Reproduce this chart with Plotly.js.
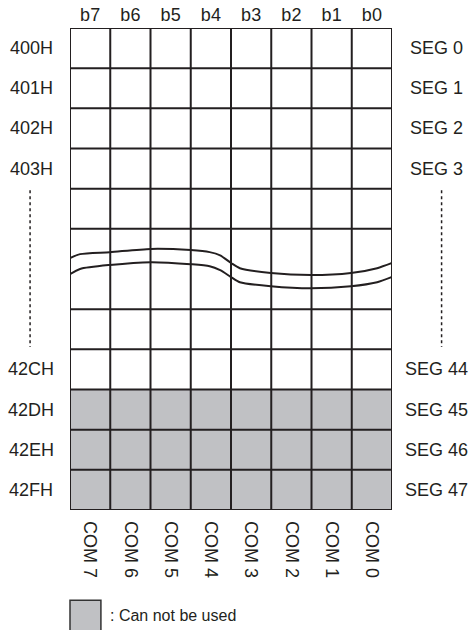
<!DOCTYPE html>
<html>
<head>
<meta charset="utf-8">
<script src="https://cdn.plot.ly/plotly-3.0.1.min.js"></script>
<style>
html,body{margin:0;padding:0;background:#fff;}
#chart{width:471px;height:630px;}
</style>
</head>
<body>
<div id="chart"></div>
<script>
// ---- data ----
const bitLabels = ['b7','b6','b5','b4','b3','b2','b1','b0'];
const comLabels = ['COM 7','COM 6','COM 5','COM 4','COM 3','COM 2','COM 1','COM 0'];
const addrLabels = ['400H','401H','402H','403H','','','','','42CH','42DH','42EH','42FH'];
const segLabels = ['SEG 0','SEG 1','SEG 2','SEG 3','','','','','SEG 44','SEG 45','SEG 46','SEG 47'];
// 0 = usable, 1 = can not be used
const rowUnusable = [0,0,0,0,0,0,0,0,0,1,1,1];
// boundary index between rows that is omitted (rows 5 and 6 form the break cell)
const omittedBoundaries = [6];
// break (omission) curves, in column / row units
const breakX    = [-0.5, -0.25, 0.49, 1.51, 2.5, 2.97, 3.23, 3.5, 3.72, 4.49, 5.49, 6.48, 7.13, 7.5];
const breakTopY = [5.23, 5.13, 5.08, 5.00, 5.03, 5.08, 5.16, 5.35, 5.48, 5.60, 5.65, 5.60, 5.48, 5.35];
const breakBotY = [5.63, 5.50, 5.40, 5.33, 5.38, 5.43, 5.53, 5.70, 5.83, 5.93, 5.98, 5.93, 5.83, 5.70];
// vertical ellipsis (dotted) rows span
const ellipsisSpan = [3.54, 7.44];
const legendText = ': Can not be used';

// ---- build ----
const nCols = bitLabels.length;
const nRows = addrLabels.length;
const colIdx = bitLabels.map((_, i) => i);
const rowIdx = addrLabels.map((_, i) => i);
const z = rowUnusable.map(u => bitLabels.map(() => u));

const ink = '#231f20';
const gray = '#c0c1c4';
const fontFam = 'Liberation Sans, Arial, sans-serif';
const fs = 18;

const gx = [], gy = [];
for (let r = 0; r <= nRows; r++) {
  if (omittedBoundaries.includes(r)) continue;
  gx.push(-0.5, nCols - 0.5, null);
  gy.push(r - 0.5, r - 0.5, null);
}
for (let c = 0; c <= nCols; c++) {
  gx.push(c - 0.5, c - 0.5, null);
  gy.push(-0.5, nRows - 0.5, null);
}

const traces = [
  {
    type: 'heatmap', x: colIdx, y: rowIdx, z: z,
    zmin: 0, zmax: 1, showscale: false, hoverinfo: 'skip',
    colorscale: [[0, '#ffffff'], [1, gray]],
    xaxis: 'x', yaxis: 'y'
  },
  {
    type: 'scatter', mode: 'lines', x: gx, y: gy,
    line: {color: ink, width: 2}, hoverinfo: 'skip',
    xaxis: 'x2', yaxis: 'y'
  },
  {
    type: 'scatter', mode: 'lines', x: breakX, y: breakTopY,
    line: {color: ink, width: 2, shape: 'spline', smoothing: 0.7}, hoverinfo: 'skip',
    xaxis: 'x2', yaxis: 'y'
  },
  {
    type: 'scatter', mode: 'lines', x: breakX, y: breakBotY,
    line: {color: ink, width: 2, shape: 'spline', smoothing: 0.7}, hoverinfo: 'skip',
    xaxis: 'x2', yaxis: 'y'
  }
];

const annotations = [];
addrLabels.forEach((t, r) => {
  if (!t) return;
  annotations.push({xref: 'paper', yref: 'y', x: -0.121, y: r, text: t,
    showarrow: false, xanchor: 'center', yanchor: 'middle',
    font: {family: fontFam, size: fs, color: ink}});
});
segLabels.forEach((t, r) => {
  if (!t) return;
  annotations.push({xref: 'paper', yref: 'y', x: 1.137, y: r, text: t,
    showarrow: false, xanchor: 'center', yanchor: 'middle',
    font: {family: fontFam, size: fs, color: ink}});
});
annotations.push({xref: 'paper', yref: 'paper', x: 0.118, y: -0.218, text: legendText,
  showarrow: false, xanchor: 'left', yanchor: 'middle',
  font: {family: fontFam, size: 16, color: ink}});

const shapes = [
  {type: 'line', xref: 'paper', yref: 'y', x0: -0.124, x1: -0.124,
   y0: ellipsisSpan[0], y1: ellipsisSpan[1], line: {color: ink, width: 1.5, dash: 'dot'}},
  {type: 'line', xref: 'paper', yref: 'y', x0: 1.154, x1: 1.154,
   y0: ellipsisSpan[0], y1: ellipsisSpan[1], line: {color: ink, width: 1.5, dash: 'dot'}},
  {type: 'rect', xref: 'paper', yref: 'paper', x0: 0, x1: 0.096, y0: -0.187, y1: -0.26,
   fillcolor: gray, line: {color: '#333', width: 1.5}}
];

const layout = {
  width: 471, height: 630,
  margin: {l: 70, r: 79, t: 28, b: 120},
  paper_bgcolor: '#fff', plot_bgcolor: '#fff',
  showlegend: false,
  font: {family: fontFam, size: fs, color: ink},
  xaxis: {range: [-0.5, nCols - 0.5], side: 'top', tickvals: colIdx, ticktext: bitLabels,
    showgrid: false, zeroline: false, showline: false, ticks: '', fixedrange: true,
    ticklabelstandoff: 2,
    tickfont: {family: fontFam, size: fs, color: ink}},
  xaxis2: {range: [-0.5, nCols - 0.5], overlaying: 'x', side: 'bottom', tickvals: colIdx,
    ticktext: comLabels, tickangle: 90, showgrid: false, zeroline: false, showline: false,
    ticks: '', ticklabelstandoff: 10, fixedrange: true,
    tickfont: {family: fontFam, size: fs, color: ink}},
  yaxis: {range: [nRows - 0.5, -0.5], showticklabels: false, showgrid: false,
    zeroline: false, showline: false, ticks: '', fixedrange: true},
  annotations: annotations,
  shapes: shapes
};

Plotly.newPlot('chart', traces, layout, {displayModeBar: false, staticPlot: true});
</script>
</body>
</html>
